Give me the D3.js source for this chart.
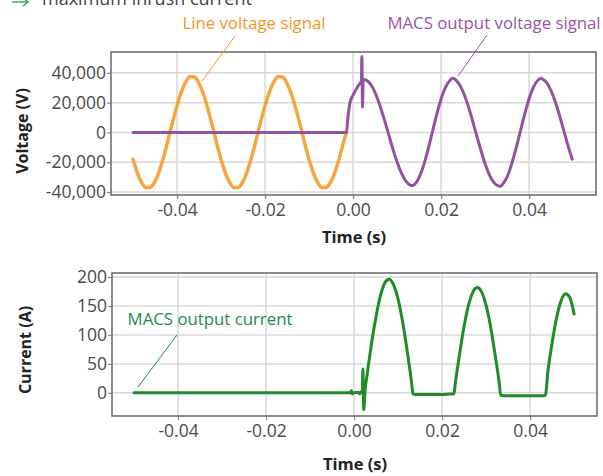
<!DOCTYPE html>
<meta charset="utf-8" />
<title>MACS inrush current</title>
<script src="https://d3js.org/d3.v7.min.js"></script>
<style>
  body { margin: 0; background: #fff; }
  text { font-family: "Open Sans", "Noto Sans", sans-serif; }
</style>
<svg id="chart" width="603" height="476"></svg>

<script>
  // ---- data (time in s) ----
  var timeTicks   = [-0.04, -0.02, 0.00, 0.02, 0.04];
  var timeLabels  = ["-0.04", "-0.02", "0.00", "0.02", "0.04"];
  var voltTicks   = [40000, 20000, 0, -20000, -40000];
  var voltLabels  = ["40,000", "20,000", "0", "-20,000", "-40,000"];
  var currTicks   = [200, 150, 100, 50, 0];
  var currLabels  = ["200", "150", "100", "50", "0"];

  // line voltage (orange), [t, V]
  var lineVoltage = [
    [-0.050,-18000],[-0.049,-27300],[-0.048,-33900],[-0.047,-37200],[-0.046,-36800],
    [-0.045,-32900],[-0.044,-25700],[-0.043,-16000],[-0.042,-4700],[-0.041,7000],
    [-0.040,18000],[-0.039,27300],[-0.038,33900],[-0.037,37600],[-0.036,37200],
    [-0.035,32900],[-0.034,25700],[-0.033,16000],[-0.032,4700],[-0.031,-7000],
    [-0.030,-18000],[-0.029,-27300],[-0.028,-33900],[-0.027,-37200],[-0.026,-36800],
    [-0.025,-32900],[-0.024,-25700],[-0.023,-16000],[-0.022,-4700],[-0.021,7000],
    [-0.020,18000],[-0.019,27300],[-0.018,33900],[-0.017,37600],[-0.016,37200],
    [-0.015,32900],[-0.014,25700],[-0.013,16000],[-0.012,4700],[-0.011,-7000],
    [-0.010,-18000],[-0.009,-27300],[-0.008,-33900],[-0.007,-37200],[-0.006,-36800],
    [-0.005,-32900],[-0.004,-25700],[-0.003,-16000],[-0.002,-4700],[-0.0015,0]
  ];

  // MACS output voltage (purple), [t, V]
  var macsVoltage = [
    [-0.050,0],[-0.040,0],[-0.030,0],[-0.020,0],[-0.010,0],[-0.0015,0],
    [-0.0012,9000],[-0.0007,20000],[0.0000,25000],[0.0009,30000],[0.0018,34000],
    [0.0019,34500],[0.0020,51000],[0.00215,17000],[0.0023,35000],[0.0025,35500],
    [0.003,35100],[0.004,32200],[0.005,26700],[0.006,18900],[0.007,9600],
    [0.008,-500],[0.009,-10600],[0.010,-19800],[0.011,-27300],[0.012,-32700],
    [0.013,-35300],[0.0134,-35600],[0.014,-34800],[0.015,-30300],[0.016,-22400],
    [0.017,-11900],[0.018,0],[0.019,11900],[0.020,22400],[0.021,30300],
    [0.022,34800],[0.0226,36300],[0.023,36000],[0.024,32900],[0.025,27300],
    [0.026,19200],[0.027,9500],[0.028,-1100],[0.029,-11500],[0.030,-21000],
    [0.031,-28600],[0.032,-33700],[0.033,-35900],[0.0335,-36200],[0.034,-34700],
    [0.035,-29800],[0.036,-21600],[0.037,-11100],[0.038,600],[0.039,12300],
    [0.040,22600],[0.041,30500],[0.042,35000],[0.0427,36300],[0.043,35900],
    [0.044,33400],[0.045,27900],[0.046,20100],[0.047,10500],[0.048,0],
    [0.049,-10500],[0.0498,-18000]
  ];

  // MACS output current (green), [t, A]
  var macsCurrent = [
    [-0.050,0],[-0.040,0],[-0.030,0],[-0.020,0],[-0.010,0],[-0.0008,0],
    [-0.0006,4],[-0.0004,-2],[-0.0002,0],[0.0010,1],[0.0013,-2],[0.0016,2],
    [0.0019,1],[0.0020,41],[0.0022,-29],[0.0025,4],[0.003,33],[0.004,87],
    [0.005,132],[0.006,168],[0.007,190],[0.008,196],[0.009,186],[0.010,162],
    [0.011,124],[0.012,76],[0.013,22],[0.0134,-2],[0.014,-3],[0.016,-3],
    [0.018,-3],[0.020,-3],[0.022,-2],[0.0227,-2],[0.023,16],[0.024,68],
    [0.025,115],[0.026,151],[0.027,174],[0.028,182],[0.029,174],[0.030,151],
    [0.031,115],[0.032,68],[0.033,16],[0.0333,-4],[0.035,-5],[0.037,-5],
    [0.039,-5],[0.041,-5],[0.043,-5],[0.0435,-4],[0.044,34],[0.045,86],
    [0.046,129],[0.047,158],[0.048,171],[0.049,165],[0.050,136]
  ];

  // ---- styling ----
  var orange = "#f5a033", orangeText = "#f7941d";
  var purple = "#8c4a9a", purpleText = "#9b52a8";
  var green  = "#13861a", greenText  = "#1d8a4c";
  var gridCol = "#d8d8d8", frameCol = "#707070", tickText = "#4a4a4a";

  var svg = d3.select("#chart");

  // partially visible heading above the chart (cut off in the original too)
  var head = svg.append("g");
  head.append("path")
    .attr("d", "M12,2 L28,2 M23,-2 L28,2 L23,6")
    .attr("fill", "none").attr("stroke", "#3fae5a").attr("stroke-width", 1.6);
  head.append("text")
    .attr("x", 42).attr("y", 5)
    .attr("font-size", 18).attr("fill", "#444")
    .text("maximum inrush current");

  function panel(opt) {
    var x = d3.scaleLinear().domain([-0.055, 0.0552]).range([opt.left, opt.right]);
    var y = d3.scaleLinear().domain(opt.yDomain).range([opt.bottom, opt.top]);
    var g = svg.append("g");

    // background + grid
    g.append("rect")
      .attr("x", opt.left).attr("y", opt.top)
      .attr("width", opt.right - opt.left).attr("height", opt.bottom - opt.top)
      .attr("fill", "#fff");
    g.selectAll(".gx").data(timeTicks).enter().append("line")
      .attr("x1", d => x(d)).attr("x2", d => x(d))
      .attr("y1", opt.top).attr("y2", opt.bottom)
      .attr("stroke", gridCol).attr("stroke-width", 1.5);
    g.selectAll(".gy").data(opt.yTicks).enter().append("line")
      .attr("x1", opt.left).attr("x2", opt.right)
      .attr("y1", d => y(d)).attr("y2", d => y(d))
      .attr("stroke", gridCol).attr("stroke-width", 1.5);

    // axes via d3
    var xAxis = d3.axisBottom(x).tickValues(timeTicks)
      .tickFormat((d, i) => timeLabels[i]).tickSize(4).tickPadding(5);
    var gx = g.append("g").attr("transform", "translate(0," + opt.bottom + ")").call(xAxis);
    var yAxis = d3.axisLeft(y).tickValues(opt.yTicks)
      .tickFormat((d, i) => opt.yLabels[i]).tickSize(4).tickPadding(1);
    var gy = g.append("g").attr("transform", "translate(" + opt.left + ",0)").call(yAxis);
    [gx, gy].forEach(function(a) {
      a.select(".domain").remove();
      a.selectAll(".tick line").attr("stroke", "#888").attr("stroke-width", 1.2);
      a.selectAll(".tick text").attr("font-size", 17.5).attr("fill", tickText)
        .attr("font-family", '"Open Sans", sans-serif');
    });

    // clipped data lines
    var clipId = "clip" + opt.top;
    svg.append("clipPath").attr("id", clipId).append("rect")
      .attr("x", opt.left).attr("y", opt.top)
      .attr("width", opt.right - opt.left).attr("height", opt.bottom - opt.top);
    var line = d3.line().x(d => x(d[0])).y(d => y(d[1])).curve(d3.curveMonotoneX);
    opt.series.forEach(function(s) {
      g.append("path").datum(s.data)
        .attr("clip-path", "url(#" + clipId + ")")
        .attr("d", line)
        .attr("fill", "none").attr("stroke", s.color)
        .attr("stroke-width", s.width).attr("stroke-linejoin", "round")
        .attr("stroke-linecap", "round").attr("opacity", 0.95);
    });

    // frame
    g.append("rect")
      .attr("x", opt.left).attr("y", opt.top)
      .attr("width", opt.right - opt.left).attr("height", opt.bottom - opt.top)
      .attr("fill", "none").attr("stroke", frameCol).attr("stroke-width", 1.6);

    // titles
    g.append("text")
      .attr("x", (x(0) + 1)).attr("y", opt.xTitleY)
      .attr("text-anchor", "middle").attr("font-size", 16.5)
      .attr("font-weight", "bold").attr("fill", "#222")
      .text("Time (s)");
    g.append("text")
      .attr("transform", "translate(" + opt.yTitleX + "," + opt.yTitleMid + ") rotate(-90)")
      .attr("text-anchor", "middle").attr("dominant-baseline", "central")
      .attr("font-size", 16).attr("font-weight", "bold").attr("fill", "#222")
      .text(opt.yTitle);

    return { x: x, y: y, g: g };
  }

  panel({
    left: 111, right: 596, top: 52, bottom: 195,
    yDomain: [-42000, 54000], yTicks: voltTicks, yLabels: voltLabels,
    yTitle: "Voltage (V)", yTitleX: 22, yTitleMid: 131, xTitleY: 243,
    series: [{ data: lineVoltage, color: orange, width: 3.5 },
             { data: macsVoltage, color: purple, width: 3 }]
  });

  panel({
    left: 112, right: 597, top: 273, bottom: 416,
    yDomain: [-40, 207], yTicks: currTicks, yLabels: currLabels,
    yTitle: "Current (A)", yTitleX: 25, yTitleMid: 350, xTitleY: 470,
    series: [{ data: macsCurrent, color: green, width: 3 }]
  });

  // ---- annotations ----
  function note(label, color, tx, ty, x1, y1, x2, y2) {
    svg.append("line")
      .attr("x1", x1).attr("y1", y1).attr("x2", x2).attr("y2", y2)
      .attr("stroke", color).attr("stroke-width", 1);
    svg.append("text")
      .attr("x", tx).attr("y", ty).attr("text-anchor", "middle")
      .attr("font-size", 16.8).attr("fill", color).text(label);
  }
  note("Line voltage signal", orangeText, 254, 29, 235, 36, 202, 81);
  note("MACS output voltage signal", purpleText, 494, 29, 487, 35, 458, 76);
  note("MACS output current", greenText, 210, 325, 177, 335, 138, 387);
</script>
